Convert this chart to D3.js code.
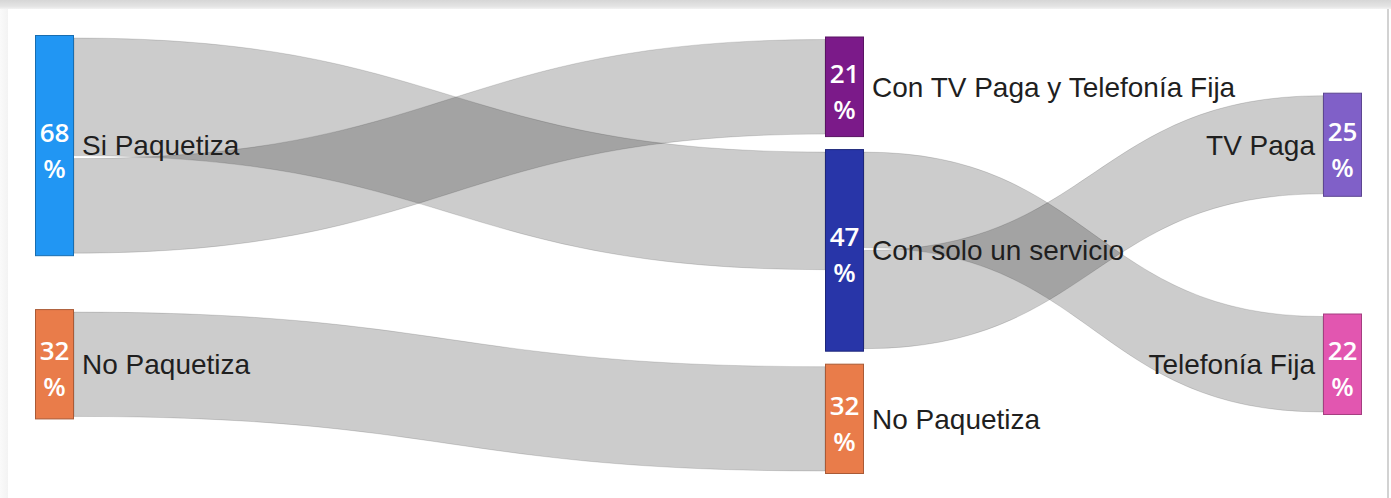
<!DOCTYPE html>
<html>
<head>
<meta charset="utf-8">
<script src="https://cdn.jsdelivr.net/npm/d3@7"></script>
<style>
  html, body { margin: 0; padding: 0; background: #fff; overflow: hidden; }
  .frame-top { position: absolute; left: 0; top: 0; width: 1391px; height: 9px;
    background: linear-gradient(#d6d6d6, #e4e4e4 70%, #f2f2f2); }
  .frame-left { position: absolute; left: 0; top: 9px; width: 8px; height: 489px;
    background: linear-gradient(90deg, #fafafa, #f3f3f3); }
  .frame-right { position: absolute; left: 1387px; top: 9px; width: 2px; height: 489px; background: #d2d2d2; }
  svg { position: absolute; left: 0; top: 0; }
</style>
</head>
<body>
<div class="frame-top"></div>
<div class="frame-left"></div>
<div class="frame-right"></div>
<svg class="Sankey"></svg>
<script>
// Nodes (percent of households)
const nodeIds = ["si", "no0", "tvtel", "solo", "no1", "tv", "tel"];
const nodeLabels = ["Si Paquetiza", "No Paquetiza", "Con TV Paga y Telefonía Fija",
  "Con solo un servicio", "No Paquetiza", "TV Paga", "Telefonía Fija"];
const nodeValues = [68, 32, 21, 47, 32, 25, 22];

// Flows
const linkSources = ["si", "si", "no0", "solo", "solo"];
const linkTargets = ["solo", "tvtel", "no1", "tel", "tv"];
const linkValues = [47, 21, 32, 22, 25];

const width = 1391;
const height = 498;
const nodeWidth = 39;
const nodePadding = 12;
const inset = 3;
const linkGap = 3;
const extent = [35, 474];

const color = d3.scaleOrdinal()
  .domain(nodeIds)
  .range(["#2196f3", "#e97c4a", "#7b1a89", "#2835a8", "#e97c4a", "#8060c8", "#e256b0"]);

// Power BI style link thickness (has an offset, not proportional)
const linkWidth = d3.scaleLinear().domain([0, 100]).range([76, 164.5]);

// column position by depth
const x = d3.scaleLinear().domain([0, 1, 2]).range([35, 825, 1323]);

/* build graph */
let nodes = nodeIds.map((id, i) => ({
  id: id, label: nodeLabels[i], value: nodeValues[i], ins: [], outs: [], depth: 0
}));
let byId = new Map(nodes.map(n => [n.id, n]));
let links = linkValues.map((v, i) => ({
  source: byId.get(linkSources[i]), target: byId.get(linkTargets[i]), value: v
}));
links.forEach(l => {
  l.width = linkWidth(l.value);
  l.source.outs.push(l);
  l.target.ins.push(l);
});

// depth from links
let changed = true;
while (changed) {
  changed = false;
  links.forEach(l => {
    if (l.target.depth < l.source.depth + 1) {
      l.target.depth = l.source.depth + 1;
      changed = true;
    }
  });
}

function sideSize(arr) {
  return d3.sum(arr, l => l.width) + Math.max(0, arr.length - 1) * linkGap;
}
nodes.forEach(n => {
  n.height = Math.max(sideSize(n.ins), sideSize(n.outs)) + 2 * inset;
});

// vertical layout: centre each node in its band, then resolve collisions
d3.groups(nodes, n => n.depth).forEach(([depth, col]) => {
  let band = d3.scaleBand().domain(col.map(n => n.id)).range(extent);
  col.forEach(n => {
    n.y0 = band(n.id) + band.bandwidth() / 2 - n.height / 2;
  });
  let y = extent[0];
  col.forEach(n => {
    if (n.y0 < y) n.y0 = y;
    y = n.y0 + n.height + nodePadding;
  });
  y = extent[1];
  for (let i = col.length - 1; i >= 0; i--) {
    let n = col[i];
    if (n.y0 + n.height > y) n.y0 = y - n.height;
    y = n.y0 - nodePadding;
  }
  col.forEach(n => {
    n.y1 = n.y0 + n.height;
    n.x0 = x(depth);
    n.x1 = n.x0 + nodeWidth;
  });
});

// link end positions, in data order
nodes.forEach(n => {
  let sy = n.y0 + inset;
  n.outs.forEach(l => { l.sy = sy; sy += l.width + linkGap; });
  let ty = n.y0 + inset;
  n.ins.forEach(l => { l.ty = ty; ty += l.width + linkGap; });
});

function bandPath(l) {
  let xs = l.source.x1, xt = l.target.x0, xm = (xs + xt) / 2;
  let p = d3.path();
  p.moveTo(xs, l.sy);
  p.bezierCurveTo(xm, l.sy, xm, l.ty, xt, l.ty);
  p.lineTo(xt, l.ty + l.width);
  p.bezierCurveTo(xm, l.ty + l.width, xm, l.sy + l.width, xs, l.sy + l.width);
  p.closePath();
  return p.toString();
}

/* draw */
const svg = d3.select('.Sankey')
  .attr('width', width)
  .attr('height', height);

svg.append('g')
  .selectAll('path')
  .data(links)
  .enter().append('path')
  .attr('d', bandPath)
  .attr('fill', '#000')
  .attr('fill-opacity', 0.2)
  .attr('stroke', '#000')
  .attr('stroke-opacity', 0.13)
  .attr('stroke-width', 1);

let nodeG = svg.append('g')
  .selectAll('g')
  .data(nodes)
  .enter().append('g');

nodeG.append('rect')
  .attr('x', d => d.x0 + 0.5)
  .attr('y', d => d.y0 + 0.5)
  .attr('width', nodeWidth - 1)
  .attr('height', d => d.height - 1)
  .attr('fill', d => color(d.id))
  .attr('stroke', d => d3.color(color(d.id)).darker(0.9))
  .attr('stroke-width', 1);

// value inside node, wrapped on two lines
let valueText = nodeG.append('text')
  .attr('text-anchor', 'middle')
  .attr('fill', '#fff')
  .style('font-family', '"Open Sans", sans-serif')
  .style('font-weight', 600)
  .style('font-size', '26px');
valueText.append('tspan')
  .attr('x', d => (d.x0 + d.x1) / 2)
  .attr('y', d => (d.y0 + d.y1) / 2 - 4)
  .text(d => d.value);
valueText.append('tspan')
  .attr('x', d => (d.x0 + d.x1) / 2)
  .attr('y', d => (d.y0 + d.y1) / 2 + 32)
  .text('%');

// node names
const lastDepth = d3.max(nodes, n => n.depth);
nodeG.append('text')
  .attr('x', d => d.depth === lastDepth ? d.x0 - 8 : d.x1 + 8)
  .attr('y', d => (d.y0 + d.y1) / 2)
  .attr('dy', '0.35em')
  .attr('text-anchor', d => d.depth === lastDepth ? 'end' : 'start')
  .attr('fill', '#1f1f1f')
  .style('font-family', '"Liberation Sans", Arial, sans-serif')
  .style('font-size', '28px')
  .text(d => d.label);
</script>
</body>
</html>
